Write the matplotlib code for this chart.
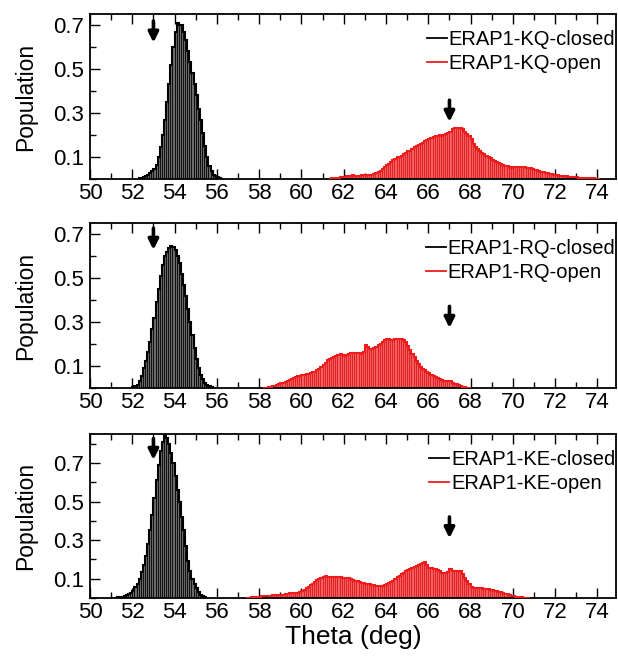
import numpy as np
import matplotlib
matplotlib.use("Agg")
import matplotlib.pyplot as plt
from matplotlib.ticker import MultipleLocator, FixedLocator

plt.rcParams['font.family'] = ['Liberation Sans', 'DejaVu Sans']

BIN = 0.1

# ---------------- data (population density per bin, bin width 0.1 deg) -------------
kq_closed_start = 52.3
kq_closed = [0.003, 0.005, 0.008, 0.012, 0.018, 0.026, 0.035, 0.045, 0.062, 0.10,
             0.145, 0.20, 0.27, 0.35, 0.43, 0.52, 0.60, 0.67, 0.71, 0.70,
             0.70, 0.67, 0.63, 0.58, 0.53, 0.48, 0.43, 0.38, 0.32, 0.27,
             0.21, 0.15, 0.10, 0.06, 0.035, 0.02, 0.012, 0.007, 0.004, 0.002]
kq_open_start = 61.3
kq_open = [0.002, 0.003, 0.004, 0.005, 0.006, 0.008, 0.010,
           0.011, 0.012, 0.014, 0.015, 0.016, 0.015, 0.014, 0.015, 0.016, 0.017,
           0.018, 0.017, 0.018, 0.020, 0.022, 0.026, 0.030, 0.036, 0.045, 0.055,
           0.062, 0.070, 0.078, 0.085, 0.090, 0.098, 0.100, 0.105, 0.112, 0.120,
           0.125, 0.128, 0.135, 0.145, 0.150, 0.156, 0.160, 0.165, 0.172, 0.178,
           0.182, 0.186, 0.190, 0.196, 0.195, 0.198, 0.196, 0.200, 0.205, 0.210,
           0.215, 0.225, 0.232, 0.232, 0.231, 0.230, 0.226, 0.215, 0.205, 0.195,
           0.180, 0.160, 0.145, 0.135, 0.125, 0.118, 0.112, 0.106, 0.100, 0.094,
           0.088, 0.083, 0.078, 0.073, 0.068, 0.064, 0.060, 0.057, 0.055, 0.052,
           0.053, 0.055, 0.054, 0.056, 0.055, 0.054, 0.052, 0.050, 0.048, 0.045,
           0.042, 0.040, 0.036, 0.033, 0.030, 0.028, 0.025, 0.023, 0.021, 0.020,
           0.018, 0.017, 0.015, 0.014, 0.013, 0.012, 0.011, 0.010, 0.009, 0.008,
           0.007, 0.006, 0.006, 0.005, 0.005, 0.004, 0.004, 0.003, 0.003, 0.002,
           0.002]

rq_closed_start = 52.0
rq_closed = [0.004, 0.008, 0.015, 0.03, 0.055, 0.09, 0.125, 0.165, 0.21, 0.27,
             0.32, 0.39, 0.45, 0.51, 0.56, 0.60, 0.62, 0.635, 0.645, 0.64,
             0.625, 0.60, 0.57, 0.52, 0.47, 0.42, 0.36, 0.30, 0.24, 0.18,
             0.13, 0.09, 0.06, 0.04, 0.025, 0.015, 0.009, 0.005, 0.002]
rq_open_start = 58.2
rq_open = [0.001, 0.002, 0.003, 0.005, 0.007, 0.010, 0.013, 0.017,
           0.021, 0.025, 0.029, 0.033, 0.037, 0.041, 0.046, 0.050, 0.054, 0.056,
           0.058, 0.060, 0.063, 0.065, 0.068, 0.071, 0.074, 0.080, 0.088, 0.096,
           0.106, 0.115, 0.126, 0.132, 0.138, 0.140, 0.145, 0.150, 0.156, 0.152,
           0.146, 0.150, 0.155, 0.159, 0.158, 0.160, 0.160, 0.157, 0.153, 0.165,
           0.194, 0.185, 0.178, 0.178, 0.180, 0.185, 0.195, 0.200, 0.208, 0.216,
           0.222, 0.224, 0.220, 0.216, 0.224, 0.224, 0.224, 0.222, 0.218, 0.208,
           0.192, 0.175, 0.155, 0.140, 0.122, 0.108, 0.097, 0.088, 0.082, 0.075,
           0.066, 0.060, 0.055, 0.050, 0.046, 0.042, 0.038, 0.034, 0.032, 0.030,
           0.030, 0.025, 0.020, 0.016, 0.012, 0.009, 0.006, 0.004, 0.002, 0.001]

ke_closed_start = 51.2
ke_closed = [0.002, 0.003, 0.005, 0.007, 0.010, 0.014, 0.020, 0.028, 0.038, 0.055,
             0.075, 0.10, 0.135, 0.17, 0.22, 0.28, 0.35, 0.43, 0.52, 0.61,
             0.69, 0.76, 0.81, 0.84, 0.83, 0.80, 0.75, 0.70, 0.63, 0.56,
             0.50, 0.42, 0.35, 0.27, 0.19, 0.14, 0.10, 0.075, 0.05, 0.03,
             0.018, 0.01, 0.004]
ke_open_start = 57.4
ke_open = [0.001, 0.002, 0.003, 0.004, 0.005, 0.006,
           0.007, 0.008, 0.009, 0.010, 0.011, 0.012, 0.013, 0.014, 0.014, 0.015,
           0.016, 0.017, 0.019, 0.021, 0.024, 0.026, 0.024, 0.026, 0.028, 0.032,
           0.036, 0.042, 0.050, 0.058, 0.066, 0.074, 0.084, 0.092, 0.100, 0.106,
           0.110, 0.112, 0.111, 0.110, 0.110, 0.111, 0.109, 0.108, 0.108, 0.106,
           0.106, 0.104, 0.102, 0.098, 0.094, 0.090, 0.086, 0.082, 0.080, 0.077,
           0.074, 0.072, 0.070, 0.068, 0.066, 0.064, 0.063, 0.062, 0.063, 0.066,
           0.070, 0.076, 0.082, 0.090, 0.098, 0.108, 0.116, 0.124, 0.132, 0.138,
           0.145, 0.150, 0.156, 0.162, 0.168, 0.170, 0.176, 0.180, 0.184, 0.170,
           0.158, 0.156, 0.152, 0.148, 0.145, 0.140, 0.132, 0.128, 0.130, 0.136,
           0.150, 0.142, 0.140, 0.141, 0.140, 0.138, 0.125, 0.105, 0.088, 0.072,
           0.058, 0.054, 0.052, 0.052, 0.051, 0.050, 0.049, 0.047, 0.045, 0.043,
           0.041, 0.038, 0.035, 0.032, 0.029, 0.025, 0.022, 0.019, 0.015, 0.012,
           0.009, 0.007, 0.005, 0.004, 0.003, 0.002, 0.001, 0.001]

variants = ["KQ", "RQ", "KE"]
closed_data = [(kq_closed_start, kq_closed), (rq_closed_start, rq_closed), (ke_closed_start, ke_closed)]
open_data = [(kq_open_start, kq_open), (rq_open_start, rq_open), (ke_open_start, ke_open)]
ylims = [0.75, 0.75, 0.85]
arrow_x = [53, 67]
arrow_tips = [(0.62, 0.26), (0.628, 0.273), (0.716, 0.31)]
arrow_len = [0.098, 0.098, 0.11]

RED = '#ee1c1c'

# ---------------- figure ------------------------------------------------------------
W, H = 618, 657
fig = plt.figure(figsize=(W / 100, H / 100), dpi=100)
panels_px = [(14, 179), (223, 388), (434, 598)]  # top, bottom in px
left_px, right_px = 90, 616.5


def draw_hist(ax, start, vals, fill, stripe, outline):
    vals = np.asarray(vals)
    edges = np.round(start + BIN * np.arange(len(vals) + 1), 3)
    ax.fill_between(edges, np.append(vals, vals[-1]), 0, step='post',
                    facecolor=fill, edgecolor='none', linewidth=0, zorder=2)
    ax.vlines(edges[1:-1], 0, np.minimum(vals[:-1], vals[1:]), colors=stripe,
              linewidth=0.6, zorder=2.5)
    ax.stairs(vals, edges, color=outline, linewidth=1.5, zorder=3)


for i, (top, bot) in enumerate(panels_px):
    ax = fig.add_axes([left_px / W, 1 - bot / H, (right_px - left_px) / W, (bot - top) / H])
    cs, cv = closed_data[i]
    os_, ov = open_data[i]
    draw_hist(ax, cs, cv, '#6a6a6a', '#000000', 'black')
    draw_hist(ax, os_, ov, '#f26060', '#e0141a', RED)

    # legend handles
    ax.plot([], [], color='black', lw=1.3, label=f"ERAP1-{variants[i]}-closed")
    ax.plot([], [], color=RED, lw=1.3, label=f"ERAP1-{variants[i]}-open")
    ax.legend(loc='upper right', bbox_to_anchor=(0.998, 0.90), frameon=False,
              fontsize=14.5, handlelength=1.0, handletextpad=0.1, borderpad=0,
              borderaxespad=0, labelspacing=0.22)

    # arrows
    for ax_x, tip in zip(arrow_x, arrow_tips[i]):
        ax.annotate('', xy=(ax_x, tip), xytext=(ax_x, tip + arrow_len[i]),
                    arrowprops=dict(arrowstyle='-|>', color='black', lw=2.6,
                                    mutation_scale=15, shrinkA=0, shrinkB=0),
                    zorder=5)

    ax.set_xlim(50, 74.9)
    ax.set_ylim(0, ylims[i])
    ax.xaxis.set_major_locator(FixedLocator(np.arange(50, 75, 2)))
    ax.xaxis.set_minor_locator(MultipleLocator(1))
    ax.yaxis.set_major_locator(FixedLocator([0.1, 0.3, 0.5, 0.7]))
    ax.yaxis.set_minor_locator(MultipleLocator(0.1))
    ax.tick_params(axis='both', which='both', direction='in', top=True, right=False,
                   labelsize=16, width=1.0)
    ax.tick_params(axis='both', which='major', length=7)
    ax.tick_params(axis='both', which='minor', length=4)
    ax.tick_params(axis='x', pad=3)
    ax.tick_params(axis='y', pad=4)
    for sp in ax.spines.values():
        sp.set_linewidth(1.3)
    ax.set_ylabel('Population', fontsize=16.5)
    ax.yaxis.set_label_coords(-0.10, 0.5)
    if i == 2:
        ax.set_xlabel('Theta (deg)', fontsize=19, labelpad=1)

fig.savefig('out.png', dpi=100)
